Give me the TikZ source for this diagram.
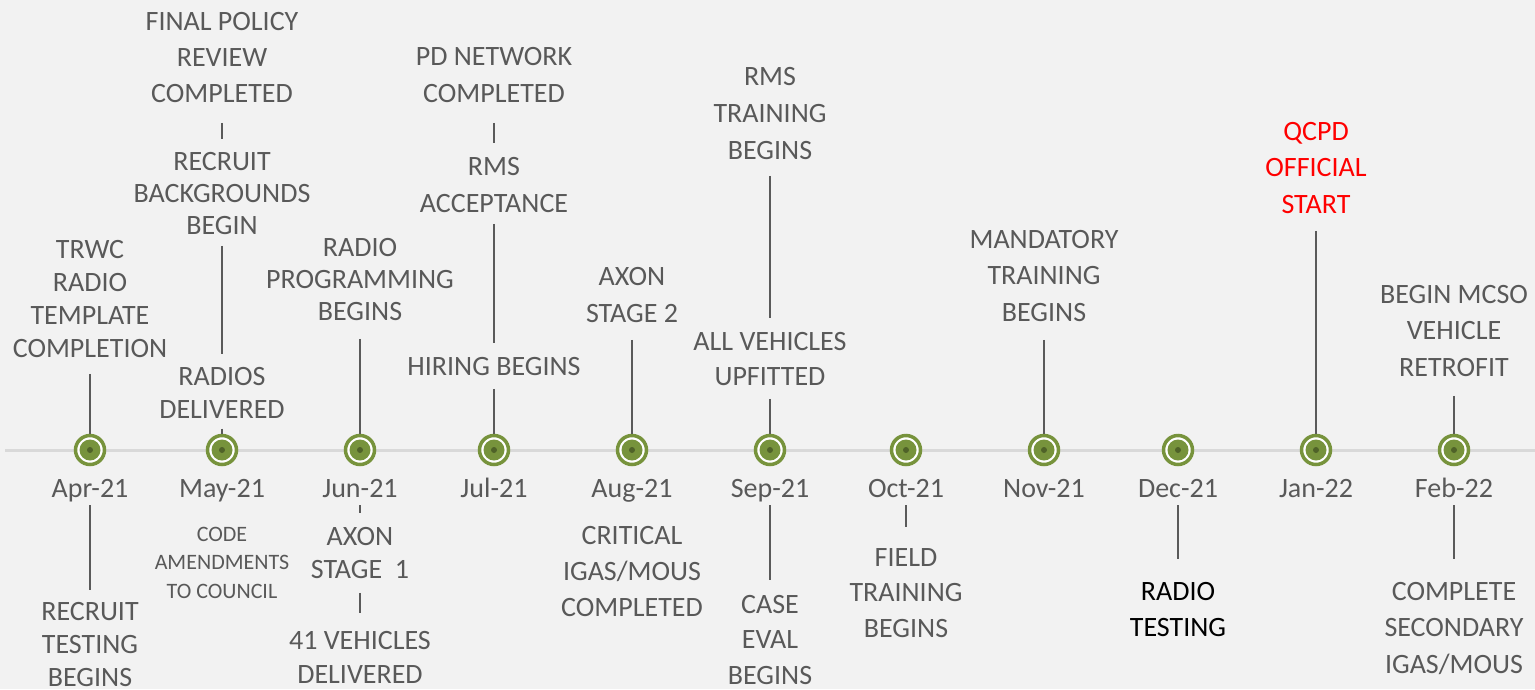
\documentclass[tikz,border=0pt]{standalone}
\usepackage{fontspec}
\setmainfont{Carlito}
\definecolor{tlbg}{HTML}{F2F2F2}
\definecolor{tltext}{HTML}{595959}
\definecolor{tlline}{HTML}{5A5A5A}
\definecolor{tlaxis}{HTML}{D9D9D9}
\definecolor{tlgreen}{HTML}{77933C}
\definecolor{tldark}{HTML}{4F6228}
\definecolor{tlred}{HTML}{FF0000}
\tikzset{
  ev/.style={align=center, inner sep=0pt, anchor=north, text=tltext,
    font=\fontsize{28}{#1}\selectfont},
  ev/.default=36.5,
  evsmall/.style={ev, font=\fontsize{22}{28.5}\selectfont},
  month/.style={anchor=base, inner sep=0pt, text depth=6pt, text=tltext,
    font=\fontsize{28}{34}\selectfont},
  stem/.style={draw=tlline, line width=2pt},
  marker/.style={circle, minimum size=29pt, inner sep=0pt, draw=tlgreen,
    line width=3.5pt, fill=white,
    path picture={
      \fill[tlgreen] (path picture bounding box.center) circle (10.5pt);
      \fill[tldark] (path picture bounding box.center) circle (3pt);}}
}
\begin{document}
\begin{tikzpicture}[x=1pt, y=-1pt]
  \useasboundingbox[fill=tlbg] (0,0) rectangle (1535,689);
  \draw[tlaxis, line width=3pt] (5,450) -- (1535,450);
  % months on the time line
  \foreach \x [count=\i from 0] in {90,222,360,494,632,770,906,1044,1178,1316,1454}
    \node[marker] (m\i) at (\x,450) {};
  \foreach \m [count=\i from 0] in {Apr-21,May-21,Jun-21,Jul-21,Aug-21,Sep-21,Oct-21,Nov-21,Dec-21,Jan-22,Feb-22}
    \node[month] (l\i) at (m\i |- 0,497) {\m};

  % events above and below
  \node[ev=33] (trwc) at (m0 |- 0,240) {TRWC\\RADIO\\TEMPLATE\\COMPLETION};
  \node[ev=33] (rectest) at (m0 |- 0,602) {RECRUIT\\TESTING\\BEGINS};
  \node[ev=36] (finpol) at (m1 |- 0,12) {FINAL POLICY\\REVIEW\\COMPLETED};
  \node[ev=32] (recbg) at (m1 |- 0,152) {RECRUIT\\BACKGROUNDS\\BEGIN};
  \node[ev=33] (radios) at (m1 |- 0,367) {RADIOS\\DELIVERED};
  \node[evsmall] (code) at (m1 |- 0,527) {CODE\\AMENDMENTS\\TO COUNCIL};
  \node[ev=32] (radprog) at (m2 |- 0,238) {RADIO\\PROGRAMMING\\BEGINS};
  \node[ev=33] (axon1) at (m2 |- 0,527) {AXON\\STAGE~~1};
  \node[ev=34] (veh41) at (m2 |- 0,631) {41 VEHICLES\\DELIVERED};
  \node[ev=37] (pdnet) at (m3 |- 0,47) {PD NETWORK\\COMPLETED};
  \node[ev=37] (rmsacc) at (m3 |- 0,157) {RMS\\ACCEPTANCE};
  \node[ev] (hiring) at (m3 |- 0,357) {HIRING BEGINS};
  \node[ev=37] (axon2) at (m4 |- 0,267) {AXON\\STAGE 2};
  \node[ev=36] (critical) at (m4 |- 0,526) {CRITICAL\\IGAS/MOUS\\COMPLETED};
  \node[ev=37] (rmstrain) at (m5 |- 0,67) {RMS\\TRAINING\\BEGINS};
  \node[ev=35] (upfit) at (m5 |- 0,332) {ALL VEHICLES\\UPFITTED};
  \node[ev=35.5] (caseeval) at (m5 |- 0,595) {CASE\\EVAL\\BEGINS};
  \node[ev=35.5] (field) at (m6 |- 0,548) {FIELD\\TRAINING\\BEGINS};
  \node[ev] (mandatory) at (m7 |- 0,230) {MANDATORY\\TRAINING\\BEGINS};
  \node[ev=36, text=black] (radtest) at (m8 |- 0,582) {RADIO\\TESTING};
  \node[ev, text=tlred] (qcpd) at (m9 |- 0,122) {QCPD\\OFFICIAL\\START};
  \node[ev] (mcso) at (m10 |- 0,285) {BEGIN MCSO\\VEHICLE\\RETROFIT};
  \node[ev] (secondary) at (m10 |- 0,582) {COMPLETE\\SECONDARY\\IGAS/MOUS};

  % stems
  \draw[stem, shorten <=16pt] (trwc) -- (m0);
  \draw[stem, shorten <=2pt, shorten >=12pt] (l0) -- (rectest);
  \draw[stem, shorten <=20pt, shorten >=13pt] (finpol) -- (recbg);
  \draw[stem, shorten <=11pt, shorten >=13pt] (recbg) -- (radios);
  \draw[stem, shorten <=10pt] (radios) -- (m1);
  \draw[stem, shorten <=18pt] (radprog) -- (m2);
  \draw[stem, shorten <=2pt, shorten >=14pt] (l2) -- (axon1);
  \draw[stem, shorten <=14pt, shorten >=18pt] (axon1) -- (veh41);
  \draw[stem, shorten <=20pt, shorten >=14pt] (pdnet) -- (rmsacc);
  \draw[stem, shorten <=11pt, shorten >=14pt] (rmsacc) -- (hiring);
  \draw[stem, shorten <=13pt] (hiring) -- (m3);
  \draw[stem, shorten <=17pt] (axon2) -- (m4);
  \draw[stem, shorten <=16pt, shorten >=14pt] (rmstrain) -- (upfit);
  \draw[stem, shorten <=13pt] (upfit) -- (m5);
  \draw[stem, shorten <=2pt, shorten >=15pt] (l5) -- (caseeval);
  \draw[stem, shorten <=2pt, shorten >=21pt] (l6) -- (field);
  \draw[stem, shorten <=18pt] (mandatory) -- (m7);
  \draw[stem, shorten <=2pt, shorten >=23pt] (l8) -- (radtest);
  \draw[stem, shorten <=17pt] (qcpd) -- (m9);
  \draw[stem, shorten <=19pt] (mcso) -- (m10);
  \draw[stem, shorten <=2pt, shorten >=23pt] (l10) -- (secondary);
\end{tikzpicture}
\end{document}
